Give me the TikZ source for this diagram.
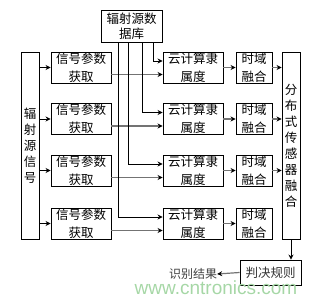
\documentclass[tikz,border=0pt]{standalone}
\usepackage{fontspec}
\setmainfont{Noto Sans CJK SC}
\newfontfamily\wmfont{Liberation Sans}
\usetikzlibrary{arrows.meta,calc}
\tikzset{
  box/.style={draw=black, line width=0.9pt, inner sep=0pt, align=center,
    font=\fontsize{12.5}{18}\selectfont},
  vbox/.style={box, font=\fontsize{12.5}{16}\selectfont},
  arr/.style={line width=0.8pt, -{Stealth[length=5pt,width=5pt]}},
  garr/.style={draw=black!55, line width=1.8pt, -{Stealth[length=5pt,width=5pt,black]}},
  tarr/.style={draw=black!55, line width=1.2pt, -{Stealth[length=5pt,width=5pt,black]}},
}
\begin{document}
\begin{tikzpicture}[x=1pt,y=-1pt]
\useasboundingbox (0,0) rectangle (318,300);
\node[box, minimum width=61pt, minimum height=32pt, font=\fontsize{12.5}{15}\selectfont] (db) at (131.5,26) {辐射源数\\据库};
\node[vbox, minimum width=18pt, minimum height=187pt] (src) at (30,145.5) {辐\\射\\源\\信\\号};
\node[vbox, minimum width=18pt, minimum height=187pt] (dist) at (291,145.5) {分\\布\\式\\传\\感\\器\\融\\合};
\foreach \i/\y in {1/67.5,2/119,3/170.5,4/223.5}{
  \node[box, minimum width=60pt, minimum height=31pt] (sig\i) at (81,\y) {信号参数\\获取};
  \node[box, minimum width=60pt, minimum height=31pt] (cloud\i) at (193,\y) {云计算隶\\属度};
  \node[box, minimum width=36pt, minimum height=31pt] (time\i) at (254,\y) {时域\\融合};
}
\node[box, minimum width=61pt, minimum height=25pt, font=\fontsize{12.5}{14}\selectfont, text=black!80] (dec) at (270.5,272.5) {判决规则};
\node[inner sep=0pt, font=\fontsize{12}{14}\selectfont, text=black!75] (res) at (193,274) {识别结果};
\node[inner sep=0pt, font=\wmfont\fontsize{19}{20}\selectfont, text=green!55!black!35] (wm) at (216,288) {www.cntronics.com};
% source to signal boxes
\foreach \i in {1,2,3,4}{
  \draw[arr] (src.east |- sig\i.west) -- (sig\i.west);
  \draw[garr] ([yshift=-7pt]sig\i.east) -- ([yshift=-7pt]sig\i.east -| cloud\i.west);
  \draw[tarr] (cloud\i.east) -- (time\i.west);
}
% database lines
\draw[arr] ([xshift=21.5pt]db.south) |- ([yshift=6.5pt]cloud1.west);
\draw[arr] ([xshift=10.5pt]db.south) |- ([yshift=6.5pt]cloud2.west);
\draw[arr] ([xshift=-3.5pt]db.south) |- ([yshift=6.5pt]cloud3.west);
\draw[arr] ([xshift=-13.5pt]db.south) |- ([yshift=6.5pt]cloud4.west);
% time to dist
\foreach \i in {1,2,3}{
  \draw[tarr] (time\i.east) -- (time\i.east -| dist.west);
}
\draw[arr] (dist.south) -- (dist.south |- dec.north);
\draw[tarr] (dec.west) -- (res.east);
\end{tikzpicture}
\end{document}
